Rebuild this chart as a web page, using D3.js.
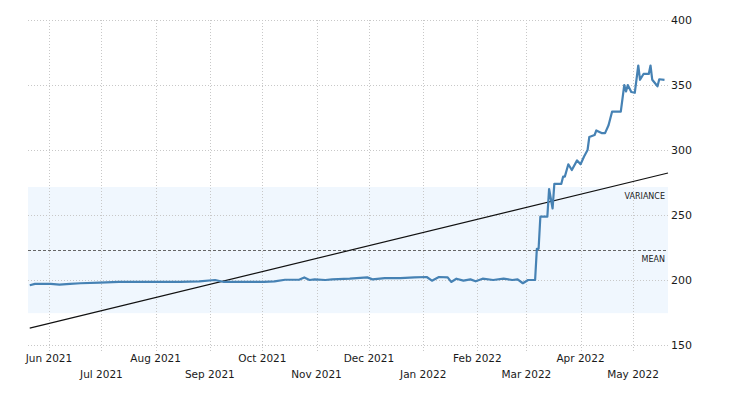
<!DOCTYPE html>
<html>
<head>
<meta charset="utf-8">
<script src="https://cdn.jsdelivr.net/npm/d3@7"></script>
<style>
  body { margin: 0; background: #fff; }
  text { font-family: "DejaVu Sans", Verdana, sans-serif; fill: #1a1a1a; }
</style>
</head>
<body>
<div id="vis"></div>
<script>
// price series
var dates = ["2021-05-21","2021-05-24","2021-06-02","2021-06-07","2021-06-13","2021-06-19","2021-06-30",
  "2021-07-11","2021-07-29","2021-08-15","2021-08-26","2021-09-04","2021-09-09","2021-09-24","2021-10-02",
  "2021-10-08","2021-10-14","2021-10-22","2021-10-25","2021-10-28","2021-10-31","2021-11-06","2021-11-10",
  "2021-11-20","2021-11-30","2021-12-03","2021-12-10","2021-12-19","2021-12-27","2022-01-03","2022-01-06",
  "2022-01-10","2022-01-15","2022-01-17","2022-01-20","2022-01-24","2022-01-28","2022-01-31","2022-02-04",
  "2022-02-10","2022-02-16","2022-02-21","2022-02-24","2022-02-27","2022-03-02","2022-03-06","2022-03-07",
  "2022-03-08","2022-03-09","2022-03-13","2022-03-14","2022-03-16","2022-03-17","2022-03-21","2022-03-22","2022-03-23",
  "2022-03-25","2022-03-27","2022-03-30","2022-04-01","2022-04-03","2022-04-05","2022-04-06","2022-04-09",
  "2022-04-10","2022-04-13","2022-04-15","2022-04-17","2022-04-19","2022-04-24","2022-04-26","2022-04-27",
  "2022-04-28","2022-04-30","2022-05-02","2022-05-04","2022-05-05","2022-05-07","2022-05-10","2022-05-11",
  "2022-05-12","2022-05-15","2022-05-16","2022-05-19"];
var values = [196,197,197,196.5,197,197.5,198,
  198.5,198.5,198.5,199,200,198.5,198.5,198.5,
  199,200.2,200.2,202,200,200.5,200,200.5,
  201,202,200.5,201.5,201.5,202,202.3,199.5,
  202.3,202,198.5,201,199.5,200.5,199,201,
  200,201,200,200.5,197.5,200,200,224,
  224,248.7,248.7,270,255,274,274,279.5,279.5,
  289,284.6,292,289,295,300,310,311.5,
  315,313,313,319,329.5,329.5,350,345,
  350,344.6,344,365,354,358.5,358.5,365,
  354,349,354.4,354];

var meanValue = 223;
var stdValue = 48.5;
var trendDates = ["2021-05-21", "2022-05-21"];
var trendValues = [163, 282.3];

var yTicks = [150, 200, 250, 300, 350, 400];
var monthTicks = ["2021-06-01","2021-07-01","2021-08-01","2021-09-01","2021-10-01","2021-11-01",
  "2021-12-01","2022-01-01","2022-02-01","2022-03-01","2022-04-01","2022-05-01"];

var parse = d3.timeParse("%Y-%m-%d");
var fmt = d3.timeFormat("%b %Y");

var width = 730, height = 400;
var plotLeft = 28, plotRight = 668, plotTop = 20, plotBottom = 345;

var svg = d3.select('#vis').append('svg')
  .attr('width', width)
  .attr('height', height);

var x = d3.scaleTime()
  .domain([parse("2021-05-20"), parse("2022-05-21")])
  .range([plotLeft, plotRight]);
var y = d3.scaleLinear().domain([150, 400]).range([plotBottom, plotTop]);

// variance band
svg.append('rect')
  .attr('x', plotLeft)
  .attr('width', plotRight - plotLeft)
  .attr('y', y(meanValue + stdValue))
  .attr('height', y(meanValue - stdValue) - y(meanValue + stdValue))
  .attr('fill', '#f0f7fe');

// horizontal grid
svg.selectAll('.hgrid').data(yTicks).enter().append('line')
  .attr('x1', plotLeft).attr('x2', plotRight)
  .attr('y1', d => Math.round(y(d)) + 0.5).attr('y2', d => Math.round(y(d)) + 0.5)
  .attr('stroke', '#c8c8c8').attr('stroke-dasharray', '1,2');

// vertical grid
svg.selectAll('.vgrid').data(monthTicks).enter().append('line')
  .attr('x1', d => Math.round(x(parse(d))) + 0.5).attr('x2', d => Math.round(x(parse(d))) + 0.5)
  .attr('y1', plotTop).attr('y2', plotBottom + 6)
  .attr('stroke', '#c8c8c8').attr('stroke-dasharray', '1,2');

// mean line
svg.append('line')
  .attr('x1', plotLeft).attr('x2', plotRight)
  .attr('y1', Math.round(y(meanValue)) + 0.5).attr('y2', Math.round(y(meanValue)) + 0.5)
  .attr('stroke', '#666').attr('stroke-dasharray', '3,2');

// trend line
svg.append('line')
  .attr('x1', x(parse(trendDates[0]))).attr('y1', y(trendValues[0]))
  .attr('x2', x(parse(trendDates[1]))).attr('y2', y(trendValues[1]))
  .attr('stroke', '#111').attr('stroke-width', 1.2);

svg.append('text')
  .attr('x', plotRight - 3).attr('y', y(meanValue + stdValue) + 12)
  .attr('text-anchor', 'end').style('font-size', '8px')
  .text('VARIANCE');
svg.append('text')
  .attr('x', plotRight - 3).attr('y', y(meanValue) + 12)
  .attr('text-anchor', 'end').style('font-size', '8px')
  .text('MEAN');

// price line
var line = d3.line()
  .x((d, i) => x(parse(dates[i])))
  .y(d => y(d));
svg.append('path')
  .datum(values)
  .attr('d', line)
  .attr('fill', 'none')
  .attr('stroke', '#4682b4')
  .attr('stroke-width', 2.2)
  .attr('stroke-linejoin', 'round');

// right axis labels
svg.selectAll('.ylab').data(yTicks).enter().append('text')
  .attr('x', 671).attr('y', d => y(d) + 4)
  .style('font-size', '11px')
  .text(d => d);

// bottom labels, alternating rows
svg.selectAll('.xlab').data(monthTicks).enter().append('text')
  .attr('x', d => x(parse(d)))
  .attr('y', (d, i) => i % 2 === 0 ? 362 : 378)
  .attr('text-anchor', 'middle')
  .style('font-size', '10.5px')
  .text(d => fmt(parse(d)));
</script>
</body>
</html>
